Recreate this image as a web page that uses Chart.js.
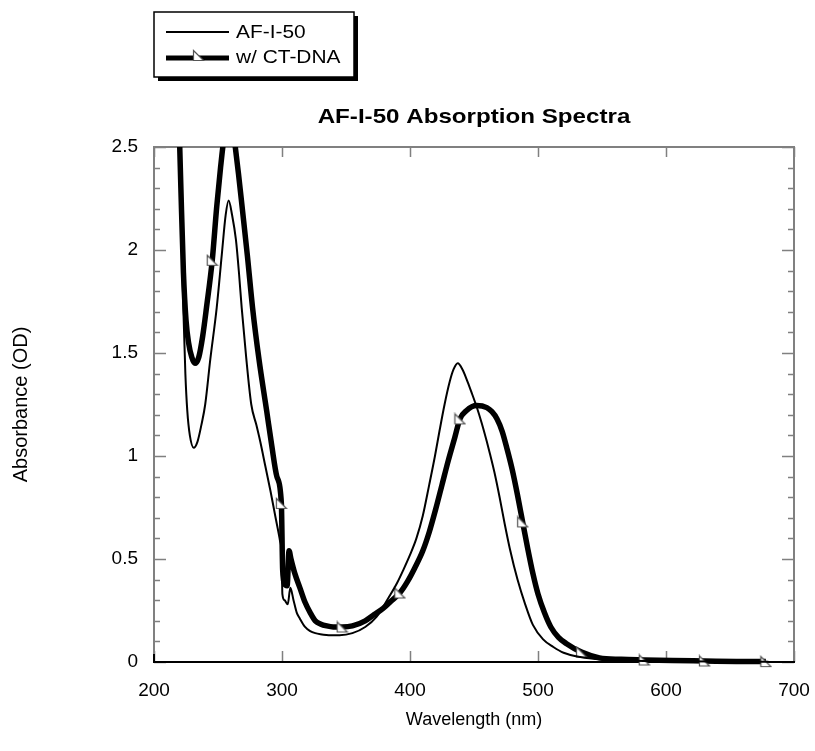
<!DOCTYPE html>
<html>
<head>
<meta charset="utf-8">
<script src="https://cdn.jsdelivr.net/npm/chart.js@4.4.0/dist/chart.umd.min.js"></script>
<style>
  html, body { margin: 0; padding: 0; background: #fff; }
</style>
</head>
<body>
<canvas id="spectra" width="815" height="751"></canvas>
<script>
// AF-I-50 alone
const thinWl = [220, 221.5, 223, 224.5, 226, 228, 231, 234, 237, 240,
  244, 249, 253, 256, 258.3, 261, 264, 266.5, 268.5, 272,
  276, 280, 283, 287, 291, 295, 298.4, 299.7, 300.3, 302,
  304.5, 306.5, 309, 311.5, 314, 318, 322, 326, 330, 338,
  345, 355, 365, 374, 383, 390, 395, 400, 405, 410,
  415, 419.5, 423, 427, 431, 434, 437.3, 441, 445, 448,
  452, 456, 460, 462.5, 466, 470, 474, 478, 484, 490,
  496, 504, 512, 520, 533, 550, 575, 600, 640, 680];
const thinAbs = [2.55, 2.1, 1.7, 1.4, 1.22, 1.1, 1.04, 1.07, 1.15, 1.25,
  1.47, 1.72, 1.98, 2.17, 2.24, 2.17, 2.05, 1.88, 1.72, 1.48,
  1.25, 1.15, 1.07, 0.95, 0.83, 0.7, 0.59, 0.52, 0.33, 0.3,
  0.28, 0.36, 0.3, 0.24, 0.21, 0.17, 0.15, 0.14, 0.135, 0.13,
  0.13, 0.14, 0.17, 0.22, 0.31, 0.385, 0.45, 0.52, 0.6, 0.71,
  0.86, 1.0, 1.12, 1.25, 1.36, 1.42, 1.45, 1.42, 1.36, 1.31,
  1.24, 1.16, 1.07, 1.01, 0.92, 0.8, 0.67, 0.55, 0.4, 0.28,
  0.18, 0.11, 0.073, 0.045, 0.024, 0.012, 0.006, 0.004, 0.002, 0.001];

// with CT-DNA
const dnaWl = [219, 221, 223, 225, 227, 229.5, 232, 235, 238, 241,
  245.5, 249, 252, 255, 258, 261, 263.5, 266, 269, 273,
  277, 282, 288, 292, 296, 299.5, 300.5, 302, 304, 305.5, 307,
  310, 314, 318, 322, 326, 330, 335, 340, 347, 355,
  365, 372, 379, 386, 392, 398, 404, 410, 415, 420,
  425, 430, 435, 439, 444, 452, 460, 464, 468, 472,
  476, 480, 484, 488, 492, 496, 500, 505, 510, 516,
  522, 534, 548, 565, 583, 605, 630, 655, 678];
const dnaAbs = [2.75, 2.3, 1.89, 1.66, 1.55, 1.48, 1.45, 1.48, 1.58, 1.72,
  1.95, 2.21, 2.4, 2.56, 2.64, 2.62, 2.5, 2.37, 2.2, 1.97,
  1.72, 1.47, 1.22, 1.05, 0.9, 0.77, 0.45, 0.38, 0.37, 0.54, 0.5,
  0.43, 0.36, 0.29, 0.24, 0.2, 0.185, 0.175, 0.17, 0.17, 0.175,
  0.2, 0.23, 0.26, 0.3, 0.335, 0.39, 0.46, 0.54, 0.63, 0.74,
  0.86, 0.98, 1.09, 1.18, 1.22, 1.245, 1.235, 1.215, 1.18, 1.12,
  1.03, 0.93, 0.81, 0.68, 0.55, 0.43, 0.33, 0.24, 0.17, 0.12,
  0.09, 0.048, 0.02, 0.013, 0.01, 0.007, 0.005, 0.003, 0.002];

// wavelengths where the w/ CT-DNA curve carries a marker
const markerWl = [245.5, 299.5, 347, 392, 439, 488, 534, 583, 630, 678];

const seriesNames = ['AF-I-50', 'w/ CT-DNA'];
const xTicks = [200, 300, 400, 500, 600, 700];
const yTicks = [0, 0.5, 1, 1.5, 2, 2.5];
const yLabels = ['0', '0.5', '1', '1.5', '2', '2.5'];
const yMinor = [0.1, 0.2, 0.3, 0.4, 0.6, 0.7, 0.8, 0.9, 1.1, 1.2, 1.3, 1.4,
  1.6, 1.7, 1.8, 1.9, 2.1, 2.2, 2.3, 2.4];

const FONT = '"Liberation Sans", Arial, Helvetica, sans-serif';

// right-triangle marker, white with dark outline
function makeMarker() {
  const c = document.createElement('canvas');
  c.width = 13; c.height = 13;
  const g = c.getContext('2d');
  g.beginPath();
  g.moveTo(1.5, 1.5);
  g.lineTo(1.5, 11.5);
  g.lineTo(11.5, 11.5);
  g.closePath();
  g.fillStyle = '#fff';
  g.fill();
  g.strokeStyle = '#555';
  g.lineWidth = 1.2;
  g.stroke();
  return c;
}
const marker = makeMarker();

// draw text stretched horizontally
function wideText(ctx, txt, x, y, sx) {
  ctx.save();
  ctx.translate(x, y);
  ctx.scale(sx, 1);
  ctx.fillText(txt, 0, 0);
  ctx.restore();
}

const decor = {
  id: 'decor',
  beforeDatasetsDraw(chart) {
    const { ctx, chartArea: a, scales: { x, y } } = chart;
    ctx.save();
    ctx.strokeStyle = '#808080';
    ctx.lineWidth = 2;
    ctx.strokeRect(a.left, a.top, a.right - a.left, a.bottom - a.top);

    ctx.lineWidth = 1.5;
    ctx.beginPath();
    yTicks.forEach(v => {
      const py = Math.round(y.getPixelForValue(v)) + 0.5;
      ctx.moveTo(a.left, py); ctx.lineTo(a.left + 12, py);
      ctx.moveTo(a.right, py); ctx.lineTo(a.right - 12, py);
    });
    yMinor.forEach(v => {
      const py = Math.round(y.getPixelForValue(v)) + 0.5;
      ctx.moveTo(a.left, py); ctx.lineTo(a.left + 6, py);
      ctx.moveTo(a.right, py); ctx.lineTo(a.right - 6, py);
    });
    xTicks.forEach(v => {
      const px = Math.round(x.getPixelForValue(v)) + 0.5;
      ctx.moveTo(px, a.bottom); ctx.lineTo(px, a.bottom - 11);
      ctx.moveTo(px, a.top); ctx.lineTo(px, a.top + 10);
    });
    ctx.stroke();

    // bottom axis line in black
    ctx.strokeStyle = '#000';
    ctx.lineWidth = 2;
    ctx.beginPath();
    ctx.moveTo(a.left - 1, a.bottom); ctx.lineTo(a.right + 1, a.bottom);
    ctx.moveTo(a.left, a.bottom); ctx.lineTo(a.left, a.bottom - 8);
    ctx.stroke();
    ctx.restore();
  },
  afterDraw(chart) {
    const { ctx, chartArea: a, scales: { x, y } } = chart;
    ctx.save();
    ctx.fillStyle = '#000';

    // tick labels
    ctx.font = '19px ' + FONT;
    ctx.textAlign = 'right';
    ctx.textBaseline = 'middle';
    yTicks.forEach((v, i) => {
      ctx.fillText(yLabels[i], a.left - 16, y.getPixelForValue(v));
    });
    ctx.textAlign = 'center';
    xTicks.forEach(v => {
      ctx.fillText(String(v), x.getPixelForValue(v), a.bottom + 29);
    });

    // axis titles
    ctx.font = '18px ' + FONT;
    ctx.fillText('Wavelength (nm)', (a.left + a.right) / 2, 720);
    ctx.save();
    ctx.translate(21, (a.top + a.bottom) / 2);
    ctx.rotate(-Math.PI / 2);
    ctx.font = '20px ' + FONT;
    ctx.fillText('Absorbance (OD)', 0, 0);
    ctx.restore();

    // title
    ctx.font = 'bold 21px ' + FONT;
    wideText(ctx, 'AF-I-50 Absorption Spectra', (a.left + a.right) / 2, 117, 1.15);

    // legend box with drop shadow
    const bx = 154, by = 12, bw = 200, bh = 65;
    ctx.fillStyle = '#000';
    ctx.fillRect(bx + 4, by + 4, bw, bh);
    ctx.fillStyle = '#fff';
    ctx.fillRect(bx, by, bw, bh);
    ctx.strokeStyle = '#000';
    ctx.lineWidth = 1.5;
    ctx.strokeRect(bx, by, bw, bh);

    ctx.lineWidth = 2;
    ctx.beginPath();
    ctx.moveTo(166, 32); ctx.lineTo(229, 32);
    ctx.stroke();
    ctx.lineWidth = 5;
    ctx.beginPath();
    ctx.moveTo(166, 58); ctx.lineTo(229, 58);
    ctx.stroke();
    ctx.drawImage(marker, 192, 49);

    ctx.fillStyle = '#000';
    ctx.font = '19px ' + FONT;
    ctx.textAlign = 'left';
    wideText(ctx, seriesNames[0], 236, 33, 1.1);
    wideText(ctx, seriesNames[1], 236, 58, 1.1);
    ctx.restore();
  }
};

new Chart(document.getElementById('spectra'), {
  type: 'line',
  data: {
    datasets: [{
      label: seriesNames[0],
      data: thinWl.map((w, i) => ({ x: w, y: thinAbs[i] })),
      borderColor: '#000',
      borderWidth: 2,
      pointRadius: 0,
      cubicInterpolationMode: 'monotone',
      clip: { left: 5, top: 0, right: 5, bottom: 5 }
    }, {
      label: seriesNames[1],
      data: dnaWl.map((w, i) => ({ x: w, y: dnaAbs[i] })),
      borderColor: '#000',
      borderWidth: 5.5,
      pointStyle: marker,
      pointRadius: ctx => markerWl.includes(dnaWl[ctx.dataIndex]) ? 6 : 0,
      cubicInterpolationMode: 'monotone',
      clip: { left: 5, top: 0, right: 5, bottom: 8 }
    }]
  },
  options: {
    responsive: false,
    devicePixelRatio: 1,
    animation: false,
    events: [],
    layout: { padding: { left: 154, top: 147, right: 21, bottom: 89 } },
    plugins: { legend: { display: false }, tooltip: { enabled: false } },
    scales: {
      x: { type: 'linear', min: 200, max: 700, display: false },
      y: { type: 'linear', min: 0, max: 2.5, display: false }
    }
  },
  plugins: [decor]
});
</script>
</body>
</html>
